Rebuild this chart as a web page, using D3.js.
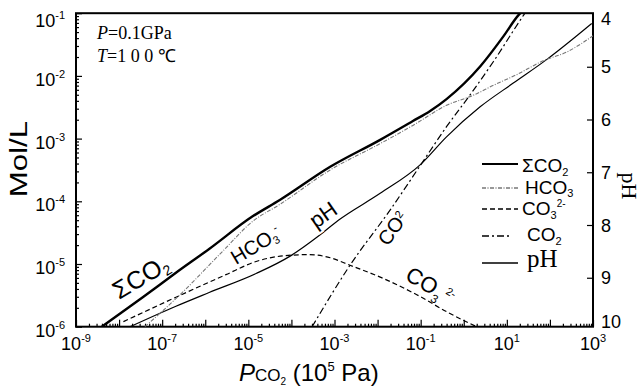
<!DOCTYPE html>
<html><head><meta charset="utf-8">
<script src="https://cdn.jsdelivr.net/npm/d3@7"></script>
<style>body{margin:0;background:#fff}svg{display:block}text{font-family:"Liberation Sans",Arial,sans-serif;fill:#000}</style>
</head><body><svg id="c" width="643" height="391"></svg>
<script>
// Values, as [log10 PCO2 (10^5 Pa), log10 concentration (mol/L)]
const sumCO2 = [[-8.40,-6.0],[-7.45,-5.53],[-6.68,-5.14],[-5.91,-4.76],[-4.90,-4.24],[-4.27,-3.98],[-3.10,-3.45],[-1.94,-3.02],[-1.18,-2.72],[-0.78,-2.56],[-0.40,-2.37],[0.38,-1.85],[0.92,-1.37],[1.27,-1.03],[1.34,-0.98]];
const hco3 = [[-7.40,-6.0],[-6.60,-5.50],[-5.60,-4.80],[-4.90,-4.32],[-4.27,-4.05],[-3.10,-3.50],[-1.94,-3.08],[-1.18,-2.79],[-0.40,-2.47],[0.25,-2.30],[0.69,-2.15],[1.23,-1.98],[1.84,-1.76],[2.39,-1.62],[3.0,-1.36]];
const co3 = [[-7.90,-5.92],[-6.68,-5.53],[-5.52,-5.17],[-4.82,-4.96],[-4.19,-4.87],[-3.60,-4.85],[-3.10,-4.90],[-2.64,-5.02],[-1.87,-5.23],[-1.09,-5.49],[-0.32,-5.79],[0.30,-6.0]];
const co2 = [[-3.52,-6.0],[-2.64,-5.02],[-1.71,-4.14],[-1.00,-3.42],[-0.40,-2.81],[0.15,-2.30],[0.69,-1.77],[1.39,-1.03],[1.45,-0.97]];
// pH curve: [log10 PCO2, pH]
const pHcurve = [[-7.75,9.93],[-6.68,9.54],[-5.91,9.28],[-4.82,8.92],[-4.03,8.59],[-3.34,8.19],[-2.91,7.91],[-1.94,7.40],[-1.00,6.85],[-0.40,6.33],[0.38,5.76],[1.15,5.31],[1.93,4.86],[2.97,4.18]];
const xTickExps = [-9,-7,-5,-3,-1,1,3];
const yTickExps = [-6,-5,-4,-3,-2,-1];
const pHTicks = [4,5,6,7,8,9,10];

const svg = d3.select("#c");
const L=76,R=593,T=13.2,B=326.7;
const x = d3.scaleLog().domain([1e-9,1e3]).range([L,R]);
const y = d3.scaleLog().domain([1e-6,1e-1]).range([B,T]);
const yp = d3.scaleLinear().domain([4,10]).range([14,330.5]);

svg.append("clipPath").attr("id","clip").append("rect")
  .attr("x",L).attr("y",T).attr("width",R-L).attr("height",B-T);

// ticks
const xDec=[],xMin=[],yDec=[],yMin=[];
for(let e=-9;e<=3;e++){xDec.push(10**e); if(e<3) for(let k=2;k<=9;k++) xMin.push(k*10**e);}
for(let e=-6;e<=-1;e++){yDec.push(10**e); if(e<-1) for(let k=2;k<=9;k++) yMin.push(k*10**e);}
function clean(g){g.select(".domain").remove(); g.selectAll("line").attr("stroke","#000").attr("stroke-width",1.2);}
svg.append("g").attr("transform",`translate(0,${B})`).call(d3.axisBottom(x).tickValues(xMin).tickSize(-3).tickFormat("").tickSizeOuter(0)).call(clean);
svg.append("g").attr("transform",`translate(0,${B})`).call(d3.axisBottom(x).tickValues(xDec).tickSize(-7).tickFormat("").tickSizeOuter(0)).call(clean);
svg.append("g").attr("transform",`translate(${L},0)`).call(d3.axisLeft(y).tickValues(yMin).tickSize(-3).tickFormat("").tickSizeOuter(0)).call(clean);
svg.append("g").attr("transform",`translate(${L},0)`).call(d3.axisLeft(y).tickValues(yDec).tickSize(-6).tickFormat("").tickSizeOuter(0)).call(clean);
svg.append("g").attr("transform",`translate(${R},0)`).call(d3.axisRight(yp).tickValues(pHTicks.filter(v=>v>4&&v<10)).tickSize(-6).tickFormat("").tickSizeOuter(0)).call(clean);

// frame
svg.append("rect").attr("x",L).attr("y",T).attr("width",R-L).attr("height",B-T)
  .attr("fill","none").attr("stroke","#000").attr("stroke-width",2);

// tick labels
xTickExps.forEach(e=>{
  const t=svg.append("text").attr("x",x(10**e)).attr("y",350).attr("text-anchor","middle").attr("font-size",18);
  t.append("tspan").text("10");
  t.append("tspan").attr("font-size",11).attr("dy",-8).text(e<0?"-"+(-e):String(e));
});
yTickExps.forEach(e=>{
  const yy=Math.max(y(10**e)+3,20);
  const t=svg.append("text").attr("x",65).attr("y",yy+7).attr("text-anchor","end").attr("font-size",18);
  t.append("tspan").text("10");
  t.append("tspan").attr("font-size",11).attr("dy",-8).text("-"+(-e));
});
pHTicks.forEach(v=>{
  const yy=Math.min(Math.max(yp(v),18),321);
  svg.append("text").attr("x",601).attr("y",yy+6.5).attr("font-size",18).text(v);
});

// axis titles
svg.append("text").attr("transform","translate(27,159) rotate(-90) scale(1.3,1)").attr("text-anchor","middle")
  .attr("font-size",24).text("Mol/L");
svg.append("text").attr("transform","translate(622,186) rotate(90)").attr("text-anchor","middle")
  .attr("font-size",22).style("font-family","'Liberation Serif',serif").text("pH");
const xt=svg.append("text").attr("x",239).attr("y",381).attr("font-size",24);
xt.append("tspan").attr("font-style","italic").text("P");
xt.append("tspan").attr("font-size",17).text("CO");
xt.append("tspan").attr("font-size",10).attr("dy",4).text("2");
xt.append("tspan").attr("dy",-4).text(" (10");
xt.append("tspan").attr("font-size",13).attr("dy",-10).text("5");
xt.append("tspan").attr("dy",10).text(" Pa)");

// curves
const gl=svg.append("g").attr("clip-path","url(#clip)");
const lc=d3.line().x(d=>x(10**d[0])).y(d=>y(10**d[1])).curve(d3.curveMonotoneX);
const lp=d3.line().x(d=>x(10**d[0])).y(d=>yp(d[1])).curve(d3.curveMonotoneX);
const styles={
  hco3:{stroke:"#777",w:1.1,dash:"4,1.5,1,1.5"},
  co3:{stroke:"#000",w:1.2,dash:"5,3"},
  co2:{stroke:"#000",w:1.2,dash:"7,3,2,3"},
  pH:{stroke:"#000",w:1.2,dash:null},
  sum:{stroke:"#000",w:2.4,dash:null}
};
function draw(data,gen,s){gl.append("path").attr("d",gen(data)).attr("fill","none").attr("stroke",s.stroke)
  .attr("stroke-width",s.w).attr("stroke-dasharray",s.dash);}
draw(co3,lc,styles.co3);
draw(co2,lc,styles.co2);
draw(pHcurve,lp,styles.pH);
draw(hco3,lc,styles.hco3);
draw(sumCO2,lc,styles.sum);

// in-plot labels
function halo(t){return t.attr("stroke","#fff").attr("stroke-width",4).attr("paint-order","stroke");}
let t=svg.append("text").attr("transform","translate(119,300) rotate(-31)").attr("font-size",25);
t.append("tspan").text("ΣCO"); t.append("tspan").attr("font-size",14).attr("dy",4).text("2");
t=svg.append("text").attr("transform","translate(236,265) rotate(-31)").attr("font-size",20);
t.append("tspan").text("HCO"); t.append("tspan").attr("font-size",11).attr("dy",3).text("3");
t.append("tspan").attr("font-size",11).attr("dy",-11).text("-");
halo(svg.append("text").attr("transform","translate(316,229) rotate(-35)").attr("font-size",22).text("pH"));
t=svg.append("text").attr("transform","translate(388,247) rotate(-55)").attr("font-size",20);
t.append("tspan").text("CO"); t.append("tspan").attr("font-size",11).attr("dy",-6).text("2");
t=svg.append("text").attr("transform","translate(404,279) rotate(30)").attr("font-size",22);
t.append("tspan").text("CO"); t.append("tspan").attr("font-size",12).attr("dy",6).text("3");
t.append("tspan").attr("font-size",11).attr("dy",-14).attr("dx",3).text("2-");

// conditions
const serif="'Liberation Serif','Times New Roman',serif";
t=svg.append("text").attr("x",97).attr("y",39).attr("font-size",18).style("font-family",serif);
t.append("tspan").attr("font-style","italic").text("P"); t.append("tspan").text("=0.1GPa");
t=svg.append("text").attr("x",97).attr("y",62).attr("font-size",18).style("font-family",serif);
t.append("tspan").attr("font-style","italic").text("T"); t.append("tspan").text("=1 0 0 ℃");

// legend
const legY=[164,188,209,236,263];
const legKeys=["sum","hco3","co3","co2","pH"];
legKeys.forEach((k,i)=>{
  const s=styles[k];
  svg.append("line").attr("x1",482).attr("x2",k==="co2"?512:518).attr("y1",legY[i]).attr("y2",legY[i])
    .attr("stroke",s.stroke).attr("stroke-width",k==="sum"?1.8:1.3).attr("stroke-dasharray",s.dash);
});
t=svg.append("text").attr("x",522).attr("y",172).attr("font-size",19);
t.append("tspan").text("ΣCO"); t.append("tspan").attr("font-size",11).attr("dy",4).text("2");
t=svg.append("text").attr("x",525).attr("y",194).attr("font-size",19);
t.append("tspan").text("HCO"); t.append("tspan").attr("font-size",11).attr("dy",3).text("3");
t=svg.append("text").attr("x",522).attr("y",215).attr("font-size",19);
t.append("tspan").text("CO"); t.append("tspan").attr("font-size",11).attr("dy",4).text("3");
t.append("tspan").attr("font-size",10).attr("dy",-12).text("2-");
t=svg.append("text").attr("x",527).attr("y",241).attr("font-size",19);
t.append("tspan").text("CO"); t.append("tspan").attr("font-size",11).attr("dy",4).text("2");
svg.append("text").attr("x",527).attr("y",267).attr("font-size",25).style("font-family",serif).text("pH");
</script></body></html>
